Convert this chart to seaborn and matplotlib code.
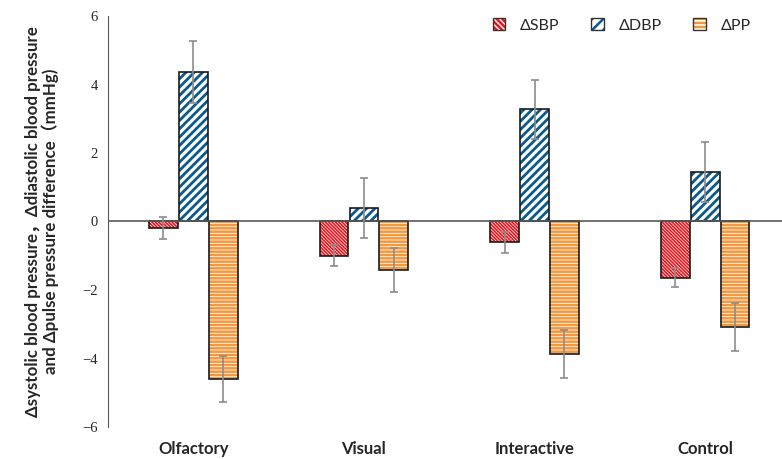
import numpy as np
import pandas as pd
import seaborn as sns
import matplotlib.pyplot as plt
import matplotlib.colors as mcolors
from matplotlib.patches import Patch

groups = ["Olfactory", "Visual", "Interactive", "Control"]
series = ["\u0394SBP", "\u0394DBP", "\u0394PP"]
sbp = [-0.20, -1.00, -0.61, -1.64]
dbp = [4.36, 0.40, 3.28, 1.45]
pp = [-4.60, -1.42, -3.88, -3.08]
sbp_err = [0.32, 0.30, 0.30, 0.28]
dbp_err = [0.90, 0.87, 0.86, 0.88]
pp_err = [0.68, 0.65, 0.70, 0.70]

hatch_colors = ["#e8141c", "#0b5a8c", "#f8963a"]
hatches = ["\\\\\\\\\\\\\\\\\\\\", "////", "-----"]
legend_hatches = ["\\\\\\\\\\\\", "///", "----"]
hatch_widths = [1.2, 2.0, 1.8]

df = pd.DataFrame({
    "group": groups * 3,
    "series": [s for s in series for _ in groups],
    "value": sbp + dbp + pp,
})
errs = [sbp_err, dbp_err, pp_err]

sns.set_style("white")
plt.rcParams["font.family"] = ["Lato", "Noto Sans CJK SC", "DejaVu Sans"]
plt.rcParams["hatch.linewidth"] = 1.8

fig, ax = plt.subplots(figsize=(7.82, 4.59), dpi=100)
fig.subplots_adjust(left=108 / 782, right=1.0, top=1 - 16 / 459, bottom=1 - 427 / 459)

sns.barplot(data=df, x="group", y="value", hue="series", order=groups,
            hue_order=series, palette=["white"] * 3, width=0.525, gap=0.04,
            errorbar=None, edgecolor="black", linewidth=1.2, legend=False, ax=ax)

bar_conts = list(ax.containers)[:3]
for i, cont in enumerate(bar_conts):
    xs, ys = [], []
    for p in cont:
        p.set_hatch(hatches[i])
        p.set_edgecolor("#1a1a1a")
        p._hatch_color = mcolors.to_rgba(hatch_colors[i])
        if hasattr(p, "_hatch_linewidth"):
            p._hatch_linewidth = hatch_widths[i]
        xs.append(p.get_x() + p.get_width() / 2)
        ys.append(p.get_y() + p.get_height())
    ax.errorbar(xs, ys, yerr=errs[i], fmt="none", ecolor="#8c8c8c",
                elinewidth=1.2, capsize=3, capthick=1.2, zorder=5)

ax.axhline(0, color="#595959", lw=1.2, zorder=4)
ax.set_xlim(-0.5, 3.45)
ax.set_ylim(-6, 6)
ax.set_yticks(np.arange(-6, 7, 2))
for t in ax.get_yticklabels():
    t.set_family("Liberation Serif")
    t.set_fontsize(10.5)
ax.tick_params(axis="y", direction="out", length=4, color="#595959", width=1)
ax.tick_params(axis="x", length=0, pad=10)
for t in ax.get_xticklabels():
    t.set_fontweight("bold")
    t.set_fontsize(12)
ax.set_xlabel("")
ax.set_ylabel("\u0394systolic blood pressure\uff0c\u0394diastolic blood pressure\n"
              "and \u0394pulse pressure difference\uff08mmHg)",
              fontsize=12.2, fontweight="bold", linespacing=1.05)
ax.yaxis.set_label_coords(-0.073, 0.5)

sns.despine(ax=ax, bottom=True)
ax.spines["left"].set_color("#595959")

handles = []
for i in range(3):
    h = Patch(facecolor="white", edgecolor="#333333", hatch=legend_hatches[i],
              linewidth=1.0, label=series[i])
    h._hatch_color = mcolors.to_rgba(hatch_colors[i])
    handles.append(h)
ax.legend(handles=handles, loc="upper right", bbox_to_anchor=(0.975, 1.03),
          ncol=3, frameon=False, fontsize=11.5, handlelength=0.8,
          handleheight=0.8, columnspacing=2.0, handletextpad=0.9)

fig.savefig("out.png", dpi=100)
